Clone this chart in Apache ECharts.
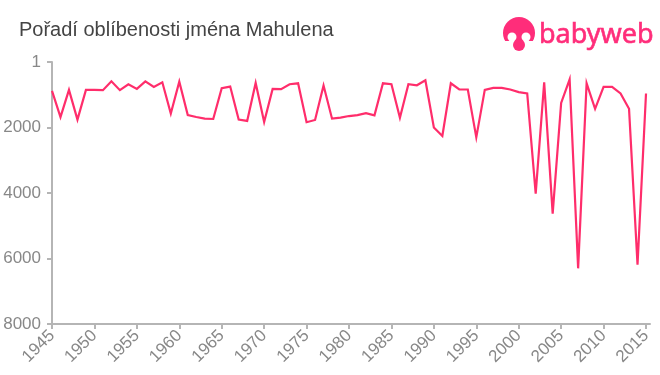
<!DOCTYPE html>
<html><head><meta charset="utf-8">
<style>html,body{margin:0;padding:0;background:#fff}#c{width:660px;height:375px}</style>
<script src="https://cdn.jsdelivr.net/npm/echarts@6/dist/echarts.min.js"></script>
</head><body><div id="c"></div>
<script>
const titleText = "Pořadí oblíbenosti jména Mahulena";
const brandText = "babyweb";
const years = [1945,1946,1947,1948,1949,1950,1951,1952,1953,1954,1955,1956,1957,1958,1959,1960,1961,1962,1963,1964,1965,1966,1967,1968,1969,1970,1971,1972,1973,1974,1975,1976,1977,1978,1979,1980,1981,1982,1983,1984,1985,1986,1987,1988,1989,1990,1991,1992,1993,1994,1995,1996,1997,1998,1999,2000,2001,2002,2003,2004,2005,2006,2007,2008,2009,2010,2011,2012,2013,2014,2015];
const ranks = [880,1680,850,1760,850,850,860,590,860,680,820,590,760,620,1570,600,1620,1680,1730,1740,800,750,1760,1800,640,1830,820,830,680,650,1840,1770,720,1730,1700,1650,1620,1560,1630,650,680,1700,680,710,560,2000,2260,650,840,840,2300,850,790,790,840,920,960,4020,620,4630,1250,530,6300,650,1430,760,760,960,1430,6190,960];
const xTicks = [1945,1950,1955,1960,1965,1970,1975,1980,1985,1990,1995,2000,2005,2010,2015];
const yTicks = [0,2000,4000,6000,8000];
const yTickLabels = ["1","2000","4000","6000","8000"];
const axisColor = "#b5b5b5", labelColor = "#888888", lineColor = "#ff2d6b", brandColor = "#ff2d7a";
const font = "'Liberation Sans', Arial, sans-serif";

const chart = echarts.init(document.getElementById('c'), null, {renderer:'canvas'});
chart.setOption({
  animation:false,
  backgroundColor:'#fff',
  title:{text:titleText,left:19,top:20,padding:0,textStyle:{fontFamily:font,fontSize:20,fontWeight:'normal',color:'#444444'}},
  grid:{left:52,right:10,top:62,bottom:51,containLabel:false},
  xAxis:{type:'value',min:1945,max:2015.47,
    axisLine:{show:true,onZero:false,lineStyle:{color:axisColor,width:2}},
    axisTick:{show:true,length:5,lineStyle:{color:axisColor,width:2},customValues:xTicks},
    axisLabel:{color:labelColor,fontFamily:font,fontSize:17,rotate:45,margin:9,customValues:xTicks,formatter:v=>String(v)},
    splitLine:{show:false}},
  yAxis:{type:'value',inverse:true,min:0,max:8000,interval:2000,
    axisLine:{show:true,onZero:false,lineStyle:{color:axisColor,width:2}},
    axisTick:{show:true,length:5,lineStyle:{color:axisColor,width:2}},
    axisLabel:{color:labelColor,fontFamily:font,fontSize:17,margin:11,formatter:v=>yTickLabels[yTicks.indexOf(v)]},
    splitLine:{show:false}},
  series:[{type:'line',data:years.map((y,i)=>[y,ranks[i]]),showSymbol:false,symbol:'none',smooth:false,
    lineStyle:{color:lineColor,width:2.2,join:'miter'},clip:false}],
  graphic:[
    {type:'circle',shape:{cx:519,cy:33,r:16},style:{fill:brandColor},silent:true},
    {type:'rect',shape:{x:500,y:41,width:38,height:10},style:{fill:'#fff'},silent:true},
    {type:'circle',shape:{cx:512,cy:37,r:4.5},style:{fill:'#fff'},silent:true},
    {type:'circle',shape:{cx:526,cy:37,r:4.5},style:{fill:'#fff'},silent:true},
    {type:'circle',shape:{cx:519,cy:45,r:6},style:{fill:brandColor},silent:true},
    {type:'text',style:{text:brandText,x:539,y:22,fontFamily:"'Noto Sans', 'Open Sans', sans-serif",fontSize:27,fill:brandColor,stroke:brandColor,lineWidth:0.6},silent:true}
  ]
});
</script></body></html>
